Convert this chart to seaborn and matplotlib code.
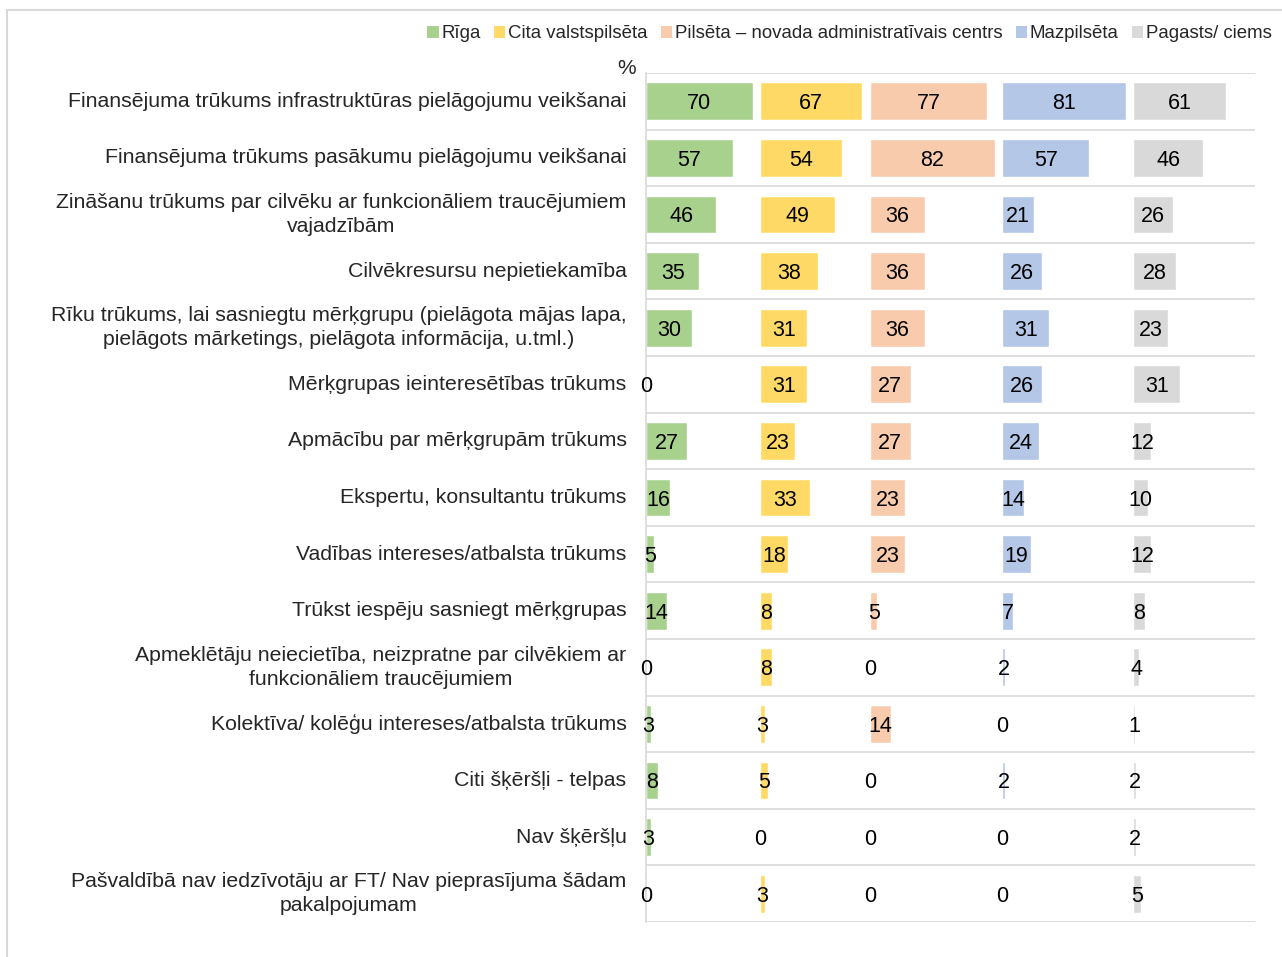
import matplotlib
matplotlib.use("Agg")
import matplotlib.pyplot as plt
import seaborn as sns
import numpy as np
from matplotlib.patches import Rectangle, Patch

categories = [
    "Finansējuma trūkums infrastruktūras pielāgojumu veikšanai",
    "Finansējuma trūkums pasākumu pielāgojumu veikšanai",
    "Zināšanu trūkums par cilvēku ar funkcionāliem traucējumiem\nvajadzībām",
    "Cilvēkresursu nepietiekamība",
    "Rīku trūkums, lai sasniegtu mērķgrupu (pielāgota mājas lapa,\npielāgots mārketings, pielāgota informācija, u.tml.)",
    "Mērķgrupas ieinteresētības trūkums",
    "Apmācību par mērķgrupām trūkums",
    "Ekspertu, konsultantu trūkums",
    "Vadības intereses/atbalsta trūkums",
    "Trūkst iespēju sasniegt mērķgrupas",
    "Apmeklētāju neieciet\u012bba, neizpratne par cilvēkiem ar\nfunkcionāliem traucējumiem",
    "Kolektīva/ kolēģu intereses/atbalsta trūkums",
    "Citi šķēršļi - telpas",
    "Nav šķēršļu",
    "Pašvaldībā nav iedzīvotāju ar FT/ Nav pieprasījuma šādam\npakalpojumam",
]

series_names = ["Rīga", "Cita valstspilsēta", "Pilsēta – novada administratīvais centrs",
                "Mazpilsēta", "Pagasts/ ciems"]

riga = [70, 57, 46, 35, 30, 0, 27, 16, 5, 14, 0, 3, 8, 3, 0]
cita = [67, 54, 49, 38, 31, 31, 23, 33, 18, 8, 8, 3, 5, 0, 3]
pilseta = [77, 82, 36, 36, 36, 27, 27, 23, 23, 5, 0, 14, 0, 0, 0]
mazpilseta = [81, 57, 21, 26, 31, 26, 24, 14, 19, 7, 2, 0, 2, 0, 0]
pagasts = [61, 46, 26, 28, 23, 31, 12, 10, 12, 8, 4, 1, 2, 2, 5]

series = [riga, cita, pilseta, mazpilseta, pagasts]
colors = ["#A9D18E", "#FFD966", "#F8CBAD", "#B4C7E7", "#D9D9D9"]

GAP = 5
AXIS_MAX = 400

sns.set_style("white")
plt.rcParams["font.family"] = ["Liberation Sans", "DejaVu Sans"]

fig = plt.figure(figsize=(12.82, 9.57), dpi=100)
ax = fig.add_axes([646 / 1282, 1 - 922 / 957, (1255 - 646) / 1282, (922 - 73) / 957])

offset = 0
for vals, col in zip(series, colors):
    sns.barplot(x=vals, y=categories, orient="h", color=col, width=0.67,
                edgecolor="white", linewidth=1, ax=ax, saturation=1)
    cont = ax.containers[-1]
    for p in cont:
        p.set_x(p.get_x() + offset)
    texts = ax.bar_label(cont, labels=[str(v) for v in vals], label_type="center",
                         fontsize=15.5, color="black")
    for t in texts:
        t.set_va("center_baseline")
    offset += max(vals) + GAP

ax.set_xlim(0, AXIS_MAX)
n = len(categories)
ax.set_ylim(n - 0.5, -0.5)
for b in np.arange(-0.5, n, 1.0):
    ax.axhline(b, color="#D9D9D9", lw=1.2, zorder=0)

for s in ["top", "right", "bottom"]:
    ax.spines[s].set_visible(False)
ax.spines["left"].set_color("#D9D9D9")
ax.spines["left"].set_linewidth(1.2)
ax.set_xticks([])
ax.set_xlabel("")
ax.set_ylabel("")
ax.tick_params(axis="y", length=0, pad=14, labelsize=15.3)
for lab in ax.get_yticklabels():
    lab.set_multialignment("center")
    lab.set_linespacing(1.35)
    lab.set_va("center")

fig.text(627 / 1282, 1 - 68 / 957, "%", ha="center", va="center", fontsize=15)

handles = [Patch(facecolor=c, edgecolor="none") for c in colors]
fig.legend(handles, series_names, loc="center right", bbox_to_anchor=(1272 / 1282, 1 - 34 / 957),
           ncol=5, frameon=False, fontsize=13.4, handlelength=0.6, handleheight=0.6,
           handletextpad=0.15, columnspacing=0.72, borderaxespad=0, borderpad=0)

fig.patches.append(Rectangle((7 / 1282, -0.5), 2, 1.5 - 10 / 957, transform=fig.transFigure,
                             facecolor="none", edgecolor="#D9D9D9", lw=1.5, zorder=-1))

fig.savefig("out.png", dpi=100)
